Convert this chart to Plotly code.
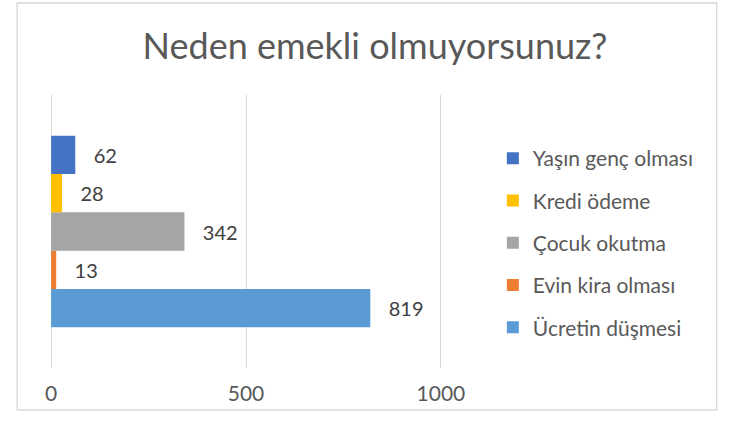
import plotly.graph_objects as go

# Data (bottom to top in the chart)
series_names = ["Ücretin düşmesi", "Evin kira olması", "Çocuk okutma", "Kredi ödeme", "Yaşın genç olması"]
series_values = [819, 13, 342, 28, 62]
series_colors = ["#5B9BD5", "#ED7D31", "#A5A5A5", "#FFC000", "#4472C4"]
category = [""]
x_ticks = [0, 500, 1000]

FONT = "Lato"
fig = go.Figure()
n = len(series_names)
for i, (name, val, col) in enumerate(zip(series_names, series_values, series_colors)):
    fig.add_trace(go.Bar(
        y=category, x=[val], name=name, orientation="h",
        marker=dict(color=col, line=dict(width=0)),
        text=[val], texttemplate="\u00a0\u00a0\u00a0%{x}", textposition="outside",
        textfont=dict(family=FONT, size=20, color="#404040"),
        cliponaxis=False,
        legendgroup=f"g{i}", legendrank=n - i,
    ))

L, R, T, B = 51, 441, 95, 368
W, H = 732, 425
pw, ph = R - L, B - T
XMIN, XMAX = -8, 1008
upx = pw / 1000.0
Lr = L + XMIN * upx
Rr = L + XMAX * upx
prw = Rr - Lr

def px(x):
    return (x - Lr) / prw

def py(y):
    return (B - y) / ph

fig.update_layout(
    width=W, height=H,
    margin=dict(l=Lr, r=W - Rr, t=T, b=H - B),
    paper_bgcolor="white", plot_bgcolor="white",
    barmode="group", bargap=0.298, bargroupgap=0,
    title=dict(text="Neden emekli olmuyorsunuz?", x=375 / W, xanchor="center",
               y=1 - 46 / H, yanchor="middle", xref="container", yref="container",
               font=dict(family=FONT, size=36, color="#595959")),
    xaxis=dict(range=[XMIN, XMAX], tickvals=x_ticks, showgrid=True, gridcolor="#D9D9D9",
               gridwidth=1.3, zeroline=False, showline=False,
               ticks="outside", ticklen=7, tickcolor="rgba(0,0,0,0)",
               tickfont=dict(family=FONT, size=21, color="#595959"), fixedrange=True),
    yaxis=dict(showticklabels=False, showgrid=False, zeroline=False, showline=False, fixedrange=True),
    legend=dict(traceorder="grouped", x=px(493), xanchor="left", y=py(138), yanchor="top",
                font=dict(family=FONT, size=21, color="#595959"), tracegroupgap=12,
                itemwidth=30, bgcolor="rgba(0,0,0,0)"),
    showlegend=True,
    shapes=[dict(type="rect", xref="paper", yref="paper", x0=px(17), x1=px(717),
                 y0=py(410), y1=py(3), line=dict(color="#D9D9D9", width=1.3), layer="below")],
)

fig.write_html("out.html", config={"displayModeBar": False},
               post_script="document.body.style.margin='0';document.body.style.padding='0';")
